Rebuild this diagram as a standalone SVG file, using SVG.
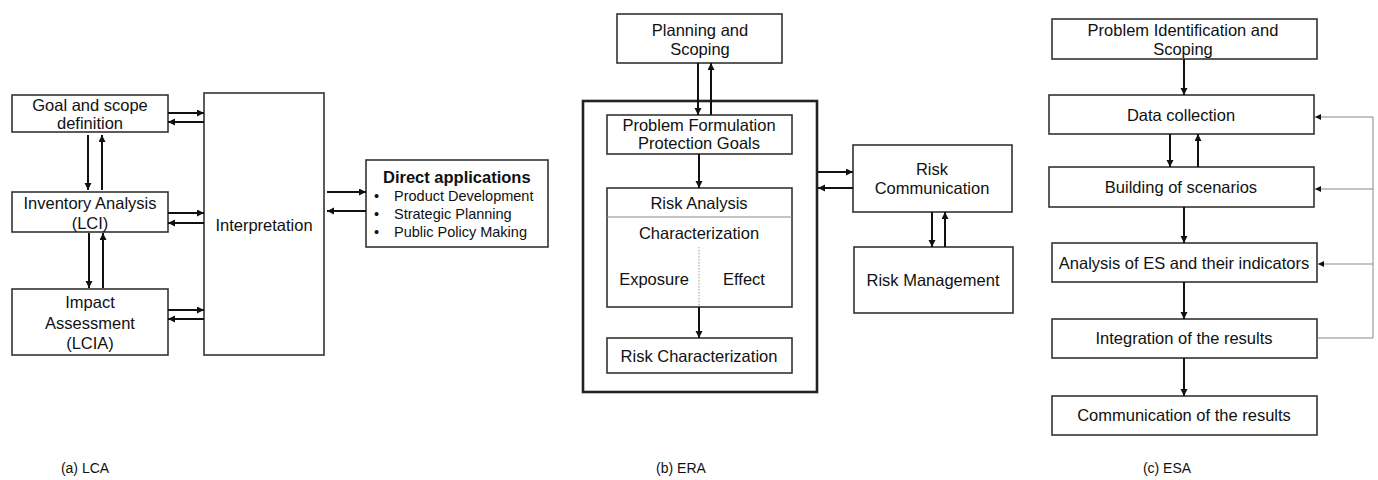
<svg xmlns="http://www.w3.org/2000/svg" width="1378" height="480" viewBox="0 0 1378 480">
  <style>
    .box { fill: #fff; stroke: #333; stroke-width: 1.6; }
    .outer { fill: none; stroke: #222; stroke-width: 2.6; }
    .t { font-family: "Liberation Sans", Arial, sans-serif; font-size: 16.5px; fill: #111; text-anchor: middle; }
    .tb { font-family: "Liberation Sans", Arial, sans-serif; font-size: 16.5px; font-weight: bold; fill: #111; }
    .ts { font-family: "Liberation Sans", Arial, sans-serif; font-size: 14.5px; fill: #111; }
    .cap { font-family: "Liberation Sans", Arial, sans-serif; font-size: 14px; fill: #111; text-anchor: middle; }
    .arr { stroke: #111; stroke-width: 2; fill: none; marker-end: url(#ah); }
    .fb { stroke: #888; stroke-width: 1; fill: none; }
    .fba { stroke: #888; stroke-width: 1; fill: none; marker-end: url(#ahs); }
    .sep { stroke: #888; stroke-width: 1; }
    .dot { stroke: #999; stroke-width: 1; stroke-dasharray: 1.5 1.5; }
  </style>
  <defs>
    <marker id="ah" markerUnits="userSpaceOnUse" markerWidth="8" markerHeight="8" refX="7" refY="3.5" orient="auto">
      <path d="M0,0 L7,3.5 L0,7 z" fill="#111"/>
    </marker>
    <marker id="ahs" markerUnits="userSpaceOnUse" markerWidth="7" markerHeight="7" refX="6" refY="3" orient="auto">
      <path d="M0,0 L6,3 L0,6 z" fill="#111"/>
    </marker>
  </defs>

  <!-- (a) LCA -->
  <g id="lca-goal">
    <rect class="box" x="12" y="95" width="156" height="37"/>
    <text class="t" x="90" y="111">Goal and scope</text>
    <text class="t" x="90" y="129">definition</text>
  </g>
  <g id="lca-inventory">
    <rect class="box" x="12" y="192" width="156" height="40"/>
    <text class="t" x="90" y="209">Inventory Analysis</text>
    <text class="t" x="90" y="229">(LCI)</text>
  </g>
  <g id="lca-impact">
    <rect class="box" x="12" y="289" width="156" height="66"/>
    <text class="t" x="90" y="308">Impact</text>
    <text class="t" x="90" y="329">Assessment</text>
    <text class="t" x="90" y="349">(LCIA)</text>
  </g>
  <g id="lca-interpretation">
    <rect class="box" x="204" y="93" width="120" height="262"/>
    <text class="t" x="264" y="231">Interpretation</text>
  </g>
  <g id="lca-applications">
    <rect class="box" x="366" y="160" width="182" height="87"/>
    <text class="tb" x="383" y="183">Direct applications</text>
    <text class="ts" x="374" y="201">•</text>
    <text class="ts" x="394" y="201">Product Development</text>
    <text class="ts" x="374" y="219">•</text>
    <text class="ts" x="394" y="219">Strategic Planning</text>
    <text class="ts" x="374" y="237">•</text>
    <text class="ts" x="394" y="237">Public Policy Making</text>
  </g>

  <!-- (b) ERA -->
  <g id="era-planning">
    <rect class="box" x="617" y="14" width="165" height="49"/>
    <text class="t" x="700" y="36">Planning and</text>
    <text class="t" x="700" y="55">Scoping</text>
  </g>
  <g id="era-assessment">
    <rect class="outer" x="583" y="101" width="234" height="291"/>
  </g>
  <g id="era-problem">
    <rect class="box" x="607" y="115" width="185" height="39"/>
    <text class="t" x="699" y="131">Problem Formulation</text>
    <text class="t" x="699" y="149">Protection Goals</text>
  </g>
  <g id="era-analysis">
    <rect class="box" x="607" y="188" width="185" height="119"/>
    <line class="sep" x1="607" y1="217" x2="792" y2="217"/>
    <line class="dot" x1="699" y1="247" x2="699" y2="307"/>
    <text class="t" x="699" y="209">Risk Analysis</text>
    <text class="t" x="699" y="239">Characterization</text>
    <text class="t" x="654" y="285">Exposure</text>
    <text class="t" x="744" y="285">Effect</text>
  </g>
  <g id="era-characterization">
    <rect class="box" x="607" y="338" width="185" height="35"/>
    <text class="t" x="699" y="362">Risk Characterization</text>
  </g>
  <g id="era-communication">
    <rect class="box" x="853" y="145" width="159" height="67"/>
    <text class="t" x="932" y="175">Risk</text>
    <text class="t" x="932" y="194">Communication</text>
  </g>
  <g id="era-management">
    <rect class="box" x="854" y="247" width="159" height="66"/>
    <text class="t" x="933" y="286">Risk Management</text>
  </g>

  <!-- (c) ESA -->
  <g id="esa-problem">
    <rect class="box" x="1052" y="19" width="265" height="40"/>
    <text class="t" x="1183" y="36">Problem Identification and</text>
    <text class="t" x="1183" y="55">Scoping</text>
  </g>
  <g id="esa-data">
    <rect class="box" x="1049" y="95" width="265" height="39"/>
    <text class="t" x="1181" y="121">Data collection</text>
  </g>
  <g id="esa-scenarios">
    <rect class="box" x="1049" y="167" width="265" height="40"/>
    <text class="t" x="1181" y="193">Building of scenarios</text>
  </g>
  <g id="esa-analysis">
    <rect class="box" x="1052" y="243" width="265" height="39"/>
    <text class="t" x="1184" y="269">Analysis of ES and their indicators</text>
  </g>
  <g id="esa-integration">
    <rect class="box" x="1052" y="319" width="265" height="39"/>
    <text class="t" x="1184" y="344">Integration of the results</text>
  </g>
  <g id="esa-communication">
    <rect class="box" x="1052" y="396" width="265" height="39"/>
    <text class="t" x="1184" y="421">Communication of the results</text>
  </g>

  <!-- captions -->
  <g id="captions">
    <text class="cap" x="85" y="473">(a) LCA</text>
    <text class="cap" x="681" y="473">(b) ERA</text>
    <text class="cap" x="1167" y="473">(c) ESA</text>
  </g>

  <g id="connectors">
    <!-- LCA -->
    <line class="arr" x1="168" y1="113" x2="204" y2="113"/>
    <line class="arr" x1="204" y1="122" x2="168" y2="122"/>
    <line class="arr" x1="168" y1="213" x2="204" y2="213"/>
    <line class="arr" x1="204" y1="223" x2="168" y2="223"/>
    <line class="arr" x1="168" y1="310" x2="204" y2="310"/>
    <line class="arr" x1="204" y1="319" x2="168" y2="319"/>
    <line class="arr" x1="88" y1="135" x2="88" y2="190"/>
    <line class="arr" x1="102" y1="190" x2="102" y2="135"/>
    <line class="arr" x1="89" y1="233" x2="89" y2="288"/>
    <line class="arr" x1="103" y1="288" x2="103" y2="233"/>
    <line class="arr" x1="327" y1="192" x2="366" y2="192"/>
    <line class="arr" x1="366" y1="211" x2="327" y2="211"/>
    <!-- ERA -->
    <line class="arr" x1="698" y1="63" x2="698" y2="115"/>
    <line class="arr" x1="711" y1="115" x2="711" y2="63"/>
    <line class="arr" x1="699" y1="154" x2="699" y2="188"/>
    <line class="arr" x1="699" y1="307" x2="699" y2="338"/>
    <line class="arr" x1="818" y1="172" x2="853" y2="172"/>
    <line class="arr" x1="853" y1="188" x2="818" y2="188"/>
    <line class="arr" x1="932" y1="212" x2="932" y2="247"/>
    <line class="arr" x1="945" y1="247" x2="945" y2="212"/>
    <!-- ESA -->
    <line class="arr" x1="1184" y1="59" x2="1184" y2="95"/>
    <line class="arr" x1="1170" y1="134" x2="1170" y2="167"/>
    <line class="arr" x1="1198" y1="167" x2="1198" y2="134"/>
    <line class="arr" x1="1184" y1="207" x2="1184" y2="243"/>
    <line class="arr" x1="1184" y1="282" x2="1184" y2="319"/>
    <line class="arr" x1="1184" y1="358" x2="1184" y2="396"/>
    <!-- ESA feedback loop -->
    <polyline class="fb" points="1317,338 1373,338 1373,117"/>
    <line class="fba" x1="1373" y1="117" x2="1315" y2="117"/>
    <line class="fba" x1="1373" y1="189" x2="1315" y2="189"/>
    <line class="fba" x1="1373" y1="264" x2="1318" y2="264"/>
  </g>
</svg>
